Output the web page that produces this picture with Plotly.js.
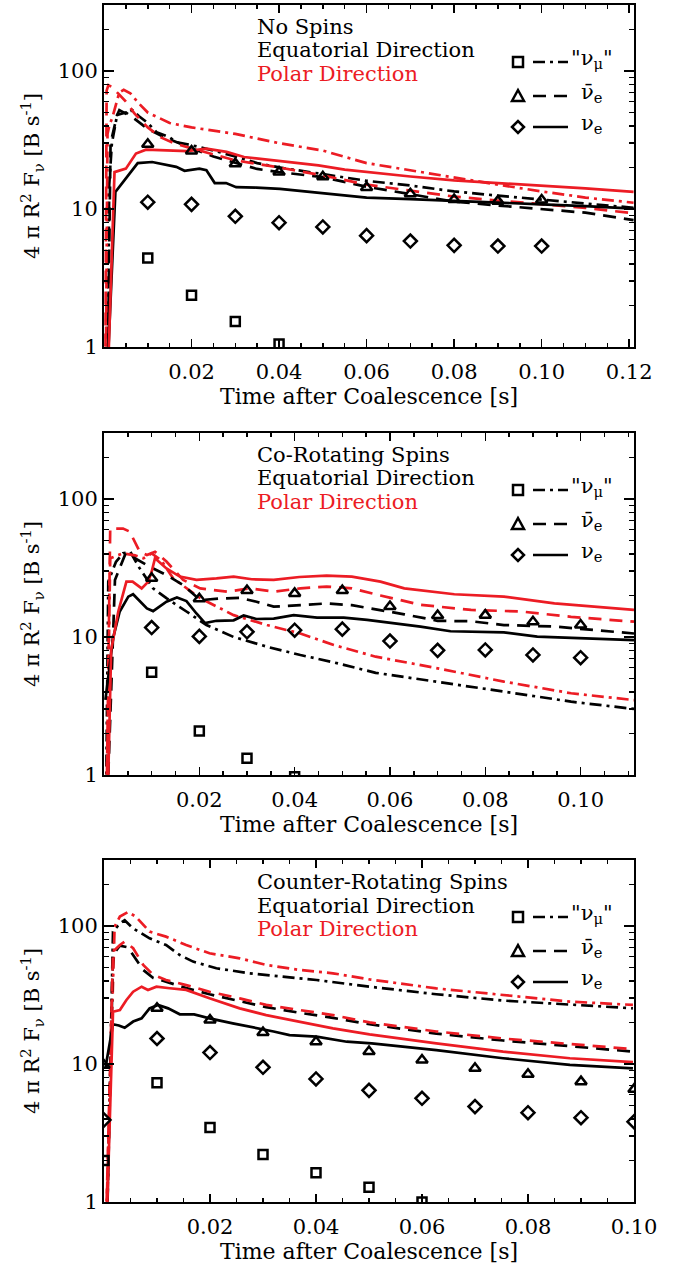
<!DOCTYPE html>
<html><head><meta charset="utf-8">
<script src="https://cdn.plot.ly/plotly-3.0.1.min.js"></script>
<style>html,body{margin:0;padding:0;background:#fff}#chart{width:683px;height:1269px}</style>
</head><body><div id="chart"></div>
<script>
// ---------------- Panel 1 : No Spins ----------------
const p1_title = "No Spins";
const p1_nux_eq_t = [0.0008,0.0012,0.0018,0.003,0.0035,0.005,0.0065,0.008,0.010,0.012,0.015,0.0166,0.020,0.022,0.025,0.030,0.035,0.040,0.050,0.060,0.070,0.080,0.090,0.100,0.110,0.121];
const p1_nux_eq_v = [0.5,15,30,48,52,49,52,47,42,36,33,30.5,29,28,26.5,24,21.5,20,18,16,14.8,13.4,12.5,11.7,10.9,10.2];
const p1_nux_po_t = [0.0004,0.0008,0.0012,0.002,0.0035,0.0045,0.006,0.008,0.010,0.015,0.020,0.030,0.040,0.050,0.060,0.070,0.080,0.090,0.100,0.110,0.121];
const p1_nux_po_v = [0.5,35,40,47,70,73,69,58,50,42,39,35,30,26.5,21.5,19,17,15,13.4,12.1,11.1];
const p1_anue_eq_t = [0.0008,0.0015,0.003,0.005,0.007,0.010,0.013,0.016,0.020,0.025,0.030,0.035,0.040,0.050,0.060,0.070,0.080,0.090,0.100,0.110,0.121];
const p1_anue_eq_v = [0.5,30,48,50,45,38,34,31,27.5,24,21.5,19.5,18.5,17.0,14.5,12.8,11.3,10.6,10.0,9.4,8.3];
const p1_anue_po_t = [0.0003,0.0006,0.001,0.002,0.003,0.005,0.007,0.010,0.013,0.016,0.020,0.025,0.030,0.040,0.050,0.060,0.070,0.080,0.090,0.100,0.110,0.121];
const p1_anue_po_v = [0.5,72,79,76,70,60,49,39,33,30,27.5,25,22.5,20,17.5,15,13.5,12.3,11.5,10.8,10.2,9.3];
const p1_nue_eq_t = [0.0006,0.0026,0.0077,0.011,0.0165,0.0184,0.0218,0.0234,0.0253,0.0279,0.0302,0.0348,0.0402,0.0463,0.0524,0.060,0.070,0.080,0.090,0.100,0.110,0.121];
const p1_nue_eq_v = [0.5,13.3,21.5,21.9,20.2,18.9,19.6,19.1,15.4,15.4,14.4,14.3,14.0,13.4,12.9,12.1,11.8,11.5,11.1,10.8,10.5,10.05];
const p1_nue_po_t = [0.0008,0.0024,0.005,0.0073,0.0096,0.014,0.019,0.0234,0.028,0.032,0.037,0.042,0.049,0.055,0.062,0.070,0.080,0.090,0.100,0.110,0.121];
const p1_nue_po_v = [0.5,18.5,19.6,25.2,26.9,26.6,26.3,27.4,25.9,23.8,22.8,21.9,20.7,19.3,18.2,17.2,16.1,15.4,14.8,14.1,13.3];
const p1_sq_t = [0.01,0.02,0.03,0.04];
const p1_sq_v = [4.42,2.37,1.53,1.05];
const p1_tri_t = [0.01,0.02,0.03,0.04,0.05,0.06,0.07,0.08,0.09,0.10];
const p1_tri_v = [29.4,26.3,21.3,18.5,17.1,14.3,12.9,11.7,11.4,11.6];
const p1_dia_t = [0.01,0.02,0.03,0.04,0.05,0.06,0.07,0.08,0.09,0.10];
const p1_dia_v = [11.2,10.8,8.85,7.96,7.41,6.41,5.86,5.45,5.39,5.39];

// ---------------- Panel 2 : Co-Rotating Spins ----------------
const p2_title = "Co-Rotating Spins";
const p2_nux_eq_t = [0.0004,0.0009,0.0025,0.004,0.0055,0.0075,0.0103,0.0131,0.0173,0.0215,0.0272,0.0342,0.0412,0.0482,0.057,0.070,0.0839,0.098,0.1112];
const p2_nux_eq_v = [0.5,25.2,35,40.4,41.5,31.4,22.5,19.1,15.3,12.2,10.0,8.5,7.4,6.55,5.5,4.7,4.02,3.4,3.01];
const p2_nux_po_t = [0.0005,0.0013,0.004,0.0065,0.0083,0.010,0.012,0.0145,0.0202,0.0272,0.0342,0.0412,0.0482,0.057,0.070,0.0839,0.098,0.1112];
const p2_nux_po_v = [0.5,37.2,40.4,39,37.2,40.4,36,26.6,19.1,14.4,12.2,10.6,8.75,7.2,5.93,4.75,3.91,3.49];
const p2_anue_eq_t = [0.0006,0.0023,0.0044,0.0065,0.0096,0.0131,0.0166,0.0202,0.0244,0.0286,0.032,0.0356,0.0412,0.0467,0.052,0.058,0.063,0.070,0.077,0.0839,0.0945,0.1112];
const p2_anue_eq_v = [0.5,25.9,39.3,37.2,32.3,28.1,23.8,18.5,19.0,19.2,18.0,16.6,17.0,17.5,17.0,15.7,14.6,13.1,13.0,12.2,11.9,10.6];
const p2_anue_po_t = [0.0005,0.0013,0.004,0.0054,0.0075,0.009,0.0107,0.0131,0.0166,0.0202,0.0258,0.0306,0.0356,0.0412,0.0467,0.052,0.058,0.0664,0.077,0.0875,0.098,0.1112];
const p2_anue_po_v = [0.5,61,61,58,41.5,39.3,41.5,35.2,25.9,22.5,21.3,22.5,21.3,22.5,23.2,22.5,20.0,17.1,15.7,15.3,14.0,12.9];
const p2_nue_eq_t = [0.0003,0.0019,0.0033,0.0051,0.0061,0.009,0.0103,0.0131,0.0153,0.0173,0.0194,0.0212,0.0236,0.0272,0.0293,0.032,0.0356,0.0398,0.0447,0.0503,0.0552,0.060,0.0664,0.0727,0.0839,0.0909,0.1007,0.1112];
const p2_nue_eq_v = [3.5,9.8,15.3,19.6,20.4,16.1,15.4,18.0,19.3,18.2,14.8,12.6,13.1,13.2,14.3,13.5,13.6,14.4,13.8,13.8,13.3,12.7,11.9,11.0,10.8,10.05,9.78,9.5];
const p2_nue_po_t = [0.0007,0.0015,0.003,0.0047,0.006,0.0079,0.0093,0.010,0.0107,0.0131,0.0159,0.0194,0.0236,0.0272,0.031,0.0356,0.041,0.0467,0.052,0.058,0.063,0.0735,0.0839,0.0945,0.1112];
const p2_nue_po_v = [0.5,8,15.3,25.2,25.2,22.5,25.2,29.7,37.2,31.4,27.4,25.9,26.6,27.4,26.2,25.9,27.2,27.8,27.4,25.2,22.5,20.4,19.6,17.5,15.7];
const p2_sq_t = [0.01,0.02,0.03,0.04];
const p2_sq_v = [5.55,2.08,1.32,0.97];
const p2_tri_t = [0.01,0.02,0.03,0.04,0.05,0.06,0.07,0.08,0.09,0.10];
const p2_tri_v = [26.6,18.9,21.7,20.7,21.7,16.6,14.3,14.4,12.9,12.2];
const p2_dia_t = [0.01,0.02,0.03,0.04,0.05,0.06,0.07,0.08,0.09,0.10];
const p2_dia_v = [11.7,10.1,10.9,11.2,11.4,9.35,8.0,8.05,7.41,7.08];

// ---------------- Panel 3 : Counter-Rotating Spins ----------------
const p3_title = "Counter-Rotating Spins";
const p3_nux_eq_t = [0.0005,0.0017,0.003,0.0039,0.0055,0.0086,0.0117,0.0143,0.0168,0.0212,0.0275,0.0338,0.0401,0.0501,0.0627,0.0753,0.0879,0.0998];
const p3_nux_eq_v = [0.5,91,104.5,110,96,81.4,72.8,61.6,55.2,49.4,45.4,42.9,40.6,36.3,32,28.8,26.8,25.3];
const p3_nux_po_t = [0.0003,0.002,0.003,0.0045,0.006,0.0086,0.0117,0.0155,0.0199,0.0256,0.0306,0.0369,0.0432,0.0501,0.0627,0.0753,0.0879,0.0998];
const p3_nux_po_v = [0.5,98.9,117,126,117,91,83.7,72.8,63.4,58.3,52.2,48,45.4,41,35.3,31.6,28.3,26.8];
const p3_anue_eq_t = [0.0005,0.0017,0.003,0.0045,0.0074,0.0093,0.0117,0.0155,0.0199,0.0256,0.0306,0.0369,0.0432,0.0501,0.0627,0.0753,0.0879,0.0998];
const p3_anue_eq_v = [0.5,62,72,70,48,42,39.5,35.5,32,28.6,25.8,23.5,21.6,19.4,16.6,14.8,13.4,12.3];
const p3_anue_po_t = [0.0003,0.0017,0.003,0.0039,0.0055,0.0074,0.0093,0.0117,0.0155,0.0199,0.0256,0.0306,0.0369,0.0432,0.0501,0.0627,0.0753,0.0879,0.0998];
const p3_anue_po_v = [0.5,65.2,72.8,77,69,52.2,44.2,40.6,37.3,33.4,29.9,26.8,24.6,22.6,20.0,17.2,15.3,13.9,12.8];
const p3_nue_eq_t = [0.0003,0.0017,0.0028,0.0039,0.0055,0.0071,0.0086,0.0102,0.0121,0.0143,0.017,0.0199,0.0243,0.0294,0.032,0.035,0.0401,0.0458,0.0505,0.0627,0.0753,0.0879,0.0998];
const p3_nue_eq_v = [9.5,19.4,19.0,18.3,20.3,21.4,25.3,26.8,25.3,22.9,22.9,21.4,19.7,18.1,17.2,16.2,15.8,14.5,14.1,12.6,11.0,9.84,9.3];
const p3_nue_po_t = [0.0004,0.0017,0.003,0.0042,0.0055,0.0071,0.0083,0.0099,0.0124,0.0155,0.0199,0.0256,0.0306,0.0369,0.0432,0.0501,0.0627,0.0753,0.0879,0.0998];
const p3_nue_po_v = [0.5,23.9,24.6,29,33.4,36.3,34.4,36.3,35.4,34.4,29.9,25.3,22.6,20.3,18.1,16.4,14.1,12.3,11.0,10.3];
const p3_sq_t = [0.0,0.01,0.02,0.03,0.04,0.05,0.06];
const p3_sq_v = [2.0,7.32,3.46,2.21,1.63,1.28,1.0];
const p3_tri_t = [0.0,0.01,0.02,0.03,0.04,0.05,0.06,0.07,0.08,0.09,0.10];
const p3_tri_v = [9.8,25.3,20.8,16.9,14.5,12.3,10.7,9.31,8.41,7.45,6.55];
const p3_dia_t = [0.0,0.01,0.02,0.03,0.04,0.05,0.06,0.07,0.08,0.09,0.10];
const p3_dia_v = [3.93,15.3,12.1,9.46,7.79,6.44,5.64,4.91,4.44,4.08,3.82];

// ---------------- axis / label settings ----------------
const xRanges = [[0,0.1211],[0,0.1112],[0,0.10]];
const xTickVals = [[0.02,0.04,0.06,0.08,0.10,0.12],[0.02,0.04,0.06,0.08,0.10],[0.02,0.04,0.06,0.08,0.10]];
const yTickVals = [1,10,100];
const yTickText = ["1","10","100"];
const xTitle = "Time after Coalescence [s]";
const yTitle = "4 π R<sup>2</sup> F<sub>ν</sub> [B s<sup>-1</sup>]";
const dirEq = "Equatorial Direction";
const dirPo = "Polar Direction";
const legLabels = ['"ν<sub>μ</sub>"', "ν\u0304<sub>e</sub>", "ν<sub>e</sub>"];

const RED = "rgb(236,28,36)";
const BLK = "#000000";
const DASHDOT = "12px,5px,3px,5px";
const DASH = "13px,8px";
const LW = 2.7;
const FONT = "DejaVu Serif";

// ---------------- geometry (pixels) ----------------
const W = 683, H = 1269;
const M = {l:104, r:49, t:5, b:67};
const plotH = H - M.t - M.b, plotW = W - M.l - M.r;
const panelTop = [5, 433, 860];
const panelH = 342;
const px2x = p => (p - M.l) / plotW;
const px2y = p => (H - M.b - p) / plotH;

const panels = [
  {title:p1_title, lines:[
    [p1_nux_eq_t,p1_nux_eq_v,BLK,DASHDOT],[p1_nux_po_t,p1_nux_po_v,RED,DASHDOT],
    [p1_anue_eq_t,p1_anue_eq_v,BLK,DASH],[p1_anue_po_t,p1_anue_po_v,RED,DASH],
    [p1_nue_eq_t,p1_nue_eq_v,BLK,"solid"],[p1_nue_po_t,p1_nue_po_v,RED,"solid"]],
   marks:[[p1_sq_t,p1_sq_v,"square-open"],[p1_tri_t,p1_tri_v,"triangle-up-open"],[p1_dia_t,p1_dia_v,"diamond-open"]]},
  {title:p2_title, lines:[
    [p2_nux_eq_t,p2_nux_eq_v,BLK,DASHDOT],[p2_nux_po_t,p2_nux_po_v,RED,DASHDOT],
    [p2_anue_eq_t,p2_anue_eq_v,BLK,DASH],[p2_anue_po_t,p2_anue_po_v,RED,DASH],
    [p2_nue_eq_t,p2_nue_eq_v,BLK,"solid"],[p2_nue_po_t,p2_nue_po_v,RED,"solid"]],
   marks:[[p2_sq_t,p2_sq_v,"square-open"],[p2_tri_t,p2_tri_v,"triangle-up-open"],[p2_dia_t,p2_dia_v,"diamond-open"]]},
  {title:p3_title, lines:[
    [p3_nux_eq_t,p3_nux_eq_v,BLK,DASHDOT],[p3_nux_po_t,p3_nux_po_v,RED,DASHDOT],
    [p3_anue_eq_t,p3_anue_eq_v,BLK,DASH],[p3_anue_po_t,p3_anue_po_v,RED,DASH],
    [p3_nue_eq_t,p3_nue_eq_v,BLK,"solid"],[p3_nue_po_t,p3_nue_po_v,RED,"solid"]],
   marks:[[p3_sq_t,p3_sq_v,"square-open"],[p3_tri_t,p3_tri_v,"triangle-up-open"],[p3_dia_t,p3_dia_v,"diamond-open"]]}
];

const traces = [];
const layout = {
  width: W, height: H,
  margin: {l:M.l, r:M.r, t:M.t, b:M.b, pad:0},
  paper_bgcolor: "#fff", plot_bgcolor: "#fff",
  font: {family: FONT, size: 21, color: "#000"},
  showlegend: false,
  annotations: [], shapes: []
};

const minorY = [];
for (let d = 1; d <= 100; d *= 10) for (let k = 2; k <= 9; k++) if (k*d < 310) minorY.push(k*d);

panels.forEach((p, i) => {
  const n = i === 0 ? "" : String(i+1);
  const xa = "x" + n, ya = "y" + n;
  const T = panelTop[i];
  p.lines.forEach(l => traces.push({type:"scatter", mode:"lines", x:l[0], y:l[1], xaxis:xa, yaxis:ya,
    line:{color:l[2], width:LW, dash:l[3]}, hoverinfo:"skip", showlegend:false}));
  p.marks.forEach(m => traces.push({type:"scatter", mode:"markers", x:m[0], y:m[1], xaxis:xa, yaxis:ya,
    marker:{symbol:m[2], size: m[2]==="square-open" ? 9 : 10, color:BLK, line:{color:BLK, width:2.5}},
    hoverinfo:"skip", showlegend:false}));

  layout["xaxis" + n] = {
    domain:[0,1], anchor: ya, range: xRanges[i], type:"linear",
    showline:true, linecolor:"#000", linewidth:2, mirror:"ticks",
    ticks:"inside", ticklen:8, tickwidth:1.5, tickcolor:"#000",
    tickmode:"array", tickvals: xTickVals[i], ticktext: xTickVals[i].map(v => v.toFixed(2)),
    ticklabelstandoff: 5,
    tickfont:{size:21},
    minor:{ticks:"inside", tickmode:"linear", tick0:0, dtick:0.005, ticklen:4, tickwidth:1.5, tickcolor:"#000", showgrid:false},
    showgrid:false, zeroline:false,
    title:{text:xTitle, font:{size:22}, standoff:5}
  };
  layout["yaxis" + n] = {
    domain:[px2y(T + panelH), px2y(T)], anchor: xa, type:"log", range:[0, 2.478],
    showline:true, linecolor:"#000", linewidth:2, mirror:"ticks",
    ticks:"inside", ticklen:10, tickwidth:1.5, tickcolor:"#000",
    tickmode:"array", tickvals: yTickVals, ticktext: yTickText,
    tickfont:{size:21},
    minor:{ticks:"inside", tickmode:"array", tickvals: minorY, ticklen:5, tickwidth:1.5, tickcolor:"#000", showgrid:false},
    showgrid:false, zeroline:false,
    title:{text:yTitle, font:{size:21}, standoff:12}
  };

  // header texts
  const hdr = [[p.title, BLK, 22], [dirEq, BLK, 45.5], [dirPo, RED, 68.5]];
  hdr.forEach(h => layout.annotations.push({xref:"paper", yref:"paper", x:px2x(255), y:px2y(T + h[2]),
    xanchor:"left", yanchor:"middle", text:h[0], showarrow:false, font:{size:21, color:h[1]}}));

  // custom legend: symbol, line sample, label
  const rows = [57, 91, 122];
  const dashes = [DASHDOT, DASH, "solid"];
  const cx = 518;
  const sym = [
    `M${cx-5},${-5} L${cx+5},${-5} L${cx+5},${5} L${cx-5},${5} Z`,
    `M${cx-6},${5} L${cx+6},${5} L${cx},${-6} Z`,
    `M${cx-6},0 L${cx},${-6} L${cx+6},0 L${cx},${6} Z`
  ];
  rows.forEach((ry, k) => {
    const cy = T + ry;
    const path = sym[k].replace(/([ML])(-?[\d.]+),(-?[\d.]+)/g, (m, c, a, b) =>
      `${c}${px2x(parseFloat(a)).toFixed(5)},${px2y(cy + parseFloat(b)).toFixed(5)}`);
    layout.shapes.push({type:"path", xref:"paper", yref:"paper", path: path, line:{color:BLK, width:2.5}, fillcolor:"rgba(0,0,0,0)"});
    layout.shapes.push({type:"line", xref:"paper", yref:"paper", x0:px2x(533), x1:px2x(568), y0:px2y(cy), y1:px2y(cy),
      line:{color:BLK, width:LW, dash:dashes[k]}});
    layout.annotations.push({xref:"paper", yref:"paper", x:px2x(k===0 ? 569 : 579), y:px2y(cy - 3),
      xanchor:"left", yanchor:"middle", text:legLabels[k], showarrow:false, font:{size:21, color:BLK}});
  });
});

Plotly.newPlot("chart", traces, layout, {staticPlot:true, displayModeBar:false});
</script></body></html>
